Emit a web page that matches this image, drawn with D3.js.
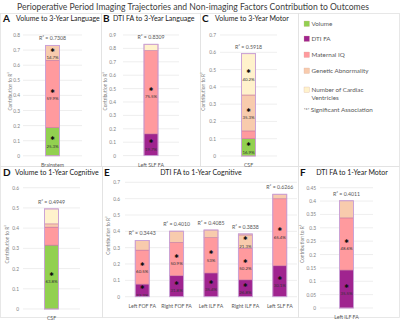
<!DOCTYPE html>
<html>
<head>
<meta charset="utf-8">
<script src="https://cdn.jsdelivr.net/npm/d3@7"></script>
<style>
  body { margin: 0; background: #fff; }
  text { font-family: Lato, "Open Sans", sans-serif; }
</style>
</head>
<body>
<div id="chart"></div>
<script>
// SVG dims
var width = 400;
var height = 322;

// Series (stack order bottom -> top)
var seriesNames = ["Volume", "DTI FA", "Maternal IQ", "Genetic Abnormality", "Number of Cardiac Ventricles"];
var seriesColors = ["#92d050", "#a0248f", "#ff9a9e", "#f8cbad", "#fff2cc"];

// A - Volume to 3-Year Language
var aCats = ["Brainstem"];
var aR2 = ["0.7308"];
var aVals = [[0.187, 0, 0.445, 0.099, 0]];
var aPct = [["25.3%", "", "59.9%", "14.7%", ""]];
var aTicks = [0, 0.1, 0.2, 0.3, 0.4, 0.5, 0.6, 0.7, 0.8];

// B - DTI FA to 3-Year Language
var bCats = ["Left SLF FA"];
var bR2 = ["0.8309"];
var bVals = [[0, 0.162, 0.622, 0, 0.047]];
var bPct = [["", "19.7%", "75.5%", "", ""]];
var bTicks = [0, 0.1, 0.2, 0.3, 0.4, 0.5, 0.6, 0.7, 0.8, 0.9];

// C - Volume to 3-Year Motor
var cCats = ["CSF"];
var cR2 = ["0.5918"];
var cVals = [[0.100, 0, 0.045, 0.208, 0.239]];
var cPct = [["16.9%", "", "", "35.3%", "40.2%"]];
var cTicks = [0, 0.1, 0.2, 0.3, 0.4, 0.5, 0.6, 0.7];

// D - Volume to 1-Year Cognitive
var dCats = ["CSF"];
var dR2 = ["0.4949"];
var dVals = [[0.316, 0, 0.089, 0.016, 0.074]];
var dPct = [["63.8%", "", "", "", ""]];
var dTicks = [0, 0.1, 0.2, 0.3, 0.4, 0.5, 0.6];

// E - DTI FA to 1-Year Cognitive
var eCats = ["Left FOF FA", "Right FOF FA", "Left ILF FA", "Right ILF FA", "Left SLF FA"];
var eR2 = ["0.3443", "0.4010", "0.4085", "0.3838", "0.6266"];
var eVals = [
    [0, 0.077, 0.208, 0.059, 0],
    [0, 0.128, 0.204, 0.069, 0],
    [0, 0.145, 0.216, 0.047, 0],
    [0, 0.103, 0.193, 0.082, 0.006],
    [0, 0.189, 0.410, 0.028, 0]
];
var ePct = [
    ["", "22.3%", "60.5%", "", ""],
    ["", "31.8%", "50.9%", "", ""],
    ["", "35.4%", "53%", "", ""],
    ["", "26.8%", "50.2%", "21.3%", ""],
    ["", "30.1%", "65.4%", "", ""]
];
var eTicks = [0, 0.1, 0.2, 0.3, 0.4, 0.5, 0.6, 0.7];

// F - DTI FA to 1-Year Motor
var fCats = ["Left ILF FA"];
var fR2 = ["0.4011"];
var fVals = [[0, 0.142, 0.195, 0.064, 0]];
var fPct = [["", "35.5%", "48.6%", "", ""]];
var fTicks = [0, 0.05, 0.1, 0.15, 0.2, 0.25, 0.3, 0.35, 0.4, 0.45];

var svg = d3.select("#chart").append("svg")
    .attr("width", width).attr("height", height);

// Main title
svg.append("text")
    .attr("x", 193).attr("y", 10)
    .attr("text-anchor", "middle")
    .attr("font-size", 8.6)
    .attr("fill", "#404040")
    .text("Perioperative Period Imaging Trajectories and Non-imaging Factors Contribution to Outcomes");

// Panel frames
var frames = [[0, 13, 101, 153], [101, 13, 99, 153], [200, 13, 98, 153], [298, 13, 101, 153],
              [0, 166, 102, 151], [102, 166, 196, 151], [298, 166, 101, 151]];
svg.selectAll("rect.frame").data(frames).enter().append("rect")
    .attr("class", "frame")
    .attr("x", function(d) { return d[0] + 0.5; })
    .attr("y", function(d) { return d[1] + 0.5; })
    .attr("width", function(d) { return d[2]; })
    .attr("height", function(d) { return d[3]; })
    .attr("fill", "none")
    .attr("stroke", "#e2e2e2")
    .attr("stroke-width", 0.8);

var panels = [
    { letter: "A", title: "Volume to 3-Year Language", lx: 3, ly: 22, tx: 16, ty: 21, anchor: "start",
      cats: aCats, r2: aR2, vals: aVals, pct: aPct, ticks: aTicks,
      x0: 23, x1: 82, y0: 155.8, yTop: 35, tickX: 20, ttlX: 12 },
    { letter: "B", title: "DTI FA to 3-Year Language", lx: 103, ly: 22, tx: 113, ty: 21, anchor: "start",
      cats: bCats, r2: bR2, vals: bVals, pct: bPct, ticks: bTicks,
      x0: 123, x1: 179, y0: 155.6, yTop: 35, tickX: 116, ttlX: 107 },
    { letter: "C", title: "Volume to 3-Year Motor", lx: 202, ly: 22, tx: 215, ty: 21, anchor: "start",
      cats: cCats, r2: cR2, vals: cVals, pct: cPct, ticks: cTicks,
      x0: 220, x1: 277, y0: 156, yTop: 35, tickX: 216, ttlX: 205 },
    { letter: "D", title: "Volume to 1-Year Cognitive", lx: 3, ly: 176, tx: 15, ty: 175, anchor: "start",
      cats: dCats, r2: dR2, vals: dVals, pct: dPct, ticks: dTicks,
      x0: 23, x1: 80, y0: 309, yTop: 187.7, tickX: 19, ttlX: 9 },
    { letter: "E", title: "DTI FA to 1-Year Cognitive", lx: 104, ly: 176, tx: 201, ty: 175, anchor: "middle",
      cats: eCats, r2: eR2, vals: eVals, pct: ePct, ticks: eTicks,
      x0: 125, x1: 297, y0: 296.7, yTop: 182.3, tickX: 120, ttlX: 110 },
    { letter: "F", title: "DTI FA to 1-Year Motor", lx: 300, ly: 176, tx: 352, ty: 175, anchor: "middle",
      cats: fCats, r2: fR2, vals: fVals, pct: fPct, ticks: fTicks,
      x0: 320, x1: 373, y0: 308, yTop: 187.7, tickX: 316, ttlX: 304 }
];

var barW = 14;
var keys = d3.range(seriesNames.length);

function drawPanel(p) {
    var g = svg.append("g");

    // Letter + title
    g.append("text").attr("x", p.lx).attr("y", p.ly)
        .attr("font-size", 10).attr("font-weight", "bold").attr("fill", "#111")
        .text(p.letter);
    g.append("text").attr("x", p.tx).attr("y", p.ty)
        .attr("text-anchor", p.anchor)
        .attr("font-size", 7).attr("fill", "#222")
        .text(p.title);

    var yMax = p.ticks[p.ticks.length - 1];
    var y = d3.scaleLinear().domain([0, yMax]).range([p.y0, p.yTop]);
    var x = d3.scaleBand().domain(p.cats).range([p.x0, p.x1]);

    // Gridlines
    g.selectAll("line.grid").data(p.ticks).enter().append("line")
        .attr("x1", p.x0).attr("x2", p.x1)
        .attr("y1", function(t) { return y(t); })
        .attr("y2", function(t) { return y(t); })
        .attr("stroke", "#e6e6e6").attr("stroke-width", 0.7);

    // Y axis labels
    var yAxis = d3.axisLeft(y).tickValues(p.ticks).tickSize(0).tickPadding(0)
        .tickFormat(function(t) { return String(+t.toFixed(2)); });
    var ya = g.append("g").attr("transform", "translate(" + p.tickX + ",0)").call(yAxis);
    ya.select(".domain").remove();
    ya.selectAll("text").attr("font-size", 4.8).attr("fill", "#7f7f7f")
        .style("font-family", "Lato, 'Open Sans', sans-serif");

    // Y axis title
    g.append("text")
        .attr("transform", "translate(" + p.ttlX + "," + ((p.y0 + p.yTop) / 2 - 4) + ") rotate(-90)")
        .attr("text-anchor", "middle")
        .attr("font-size", 4.8).attr("fill", "#7f7f7f")
        .text("Contribution to R²");

    // X axis labels
    var xAxis = d3.axisBottom(x).tickSize(0).tickPadding(0);
    var xa = g.append("g").attr("transform", "translate(0," + (p.y0 + 7.5) + ")").call(xAxis);
    xa.select(".domain").remove();
    xa.selectAll("text").attr("font-size", 5.2).attr("fill", "#595959")
        .style("font-family", "Lato, 'Open Sans', sans-serif");

    // Stacked data
    var rows = p.vals.map(function(v, i) {
        var o = { cat: p.cats[i] };
        v.forEach(function(val, k) { o[k] = val; });
        return o;
    });
    var stacked = d3.stack().keys(keys)(rows);

    stacked.forEach(function(layer, k) {
        layer.forEach(function(seg, i) {
            if (seg[1] - seg[0] <= 0) return;
            var cx = x(p.cats[i]) + x.bandwidth() / 2;
            g.append("rect")
                .attr("x", cx - barW / 2)
                .attr("y", y(seg[1]))
                .attr("width", barW)
                .attr("height", y(seg[0]) - y(seg[1]))
                .attr("fill", seriesColors[k])
                .attr("stroke", "#c0709f")
                .attr("stroke-width", 0.5);
            var lab = p.pct[i][k];
            if (lab) {
                var mid = (y(seg[0]) + y(seg[1])) / 2;
                // significance marker
                g.append("text").attr("x", cx).attr("y", mid - 1.3)
                    .attr("text-anchor", "middle")
                    .attr("font-size", 5.5).attr("fill", "#111")
                    .style("font-family", "'DejaVu Sans', sans-serif")
                    .text("\u2731");
                g.append("text").attr("x", cx).attr("y", mid + 6.2)
                    .attr("text-anchor", "middle")
                    .attr("font-size", 4.4).attr("fill", "#333")
                    .text(lab);
            }
        });
    });

    // Outer bar outline + R2 label
    p.cats.forEach(function(c, i) {
        var total = d3.sum(p.vals[i]);
        var cx = x(c) + x.bandwidth() / 2;
        g.append("rect")
            .attr("x", cx - barW / 2).attr("y", y(total))
            .attr("width", barW).attr("height", y(0) - y(total))
            .attr("fill", "none").attr("stroke", "#c9a3d9").attr("stroke-width", 0.9);
        g.append("text").attr("x", cx).attr("y", y(total) - 5)
            .attr("text-anchor", "middle")
            .attr("font-size", 5.2).attr("fill", "#595959")
            .text("R² = " + p.r2[i]);
    });
}

panels.forEach(drawPanel);

// Legend
var legendY = [25, 40, 56, 72, 91];
var lg = svg.append("g");
seriesNames.forEach(function(name, k) {
    lg.append("rect").attr("x", 304).attr("y", legendY[k] - 4)
        .attr("width", 5.5).attr("height", 5.5)
        .attr("fill", seriesColors[k]).attr("stroke", "#d8b0a0").attr("stroke-width", 0.3);
    var t = lg.append("text").attr("x", 311.5).attr("y", legendY[k] + 1.3)
        .attr("font-size", 6.3).attr("fill", "#595959");
    if (k === 4) {
        t.append("tspan").attr("x", 311.5).text("Number of Cardiac");
        t.append("tspan").attr("x", 311.5).attr("dy", 7.5).text("Ventricles");
    } else {
        t.text(name);
    }
});
lg.append("text").attr("x", 304).attr("y", 112)
    .attr("font-size", 6.3).attr("fill", "#595959")
    .text("'*' Significant Association");
</script>
</body>
</html>
